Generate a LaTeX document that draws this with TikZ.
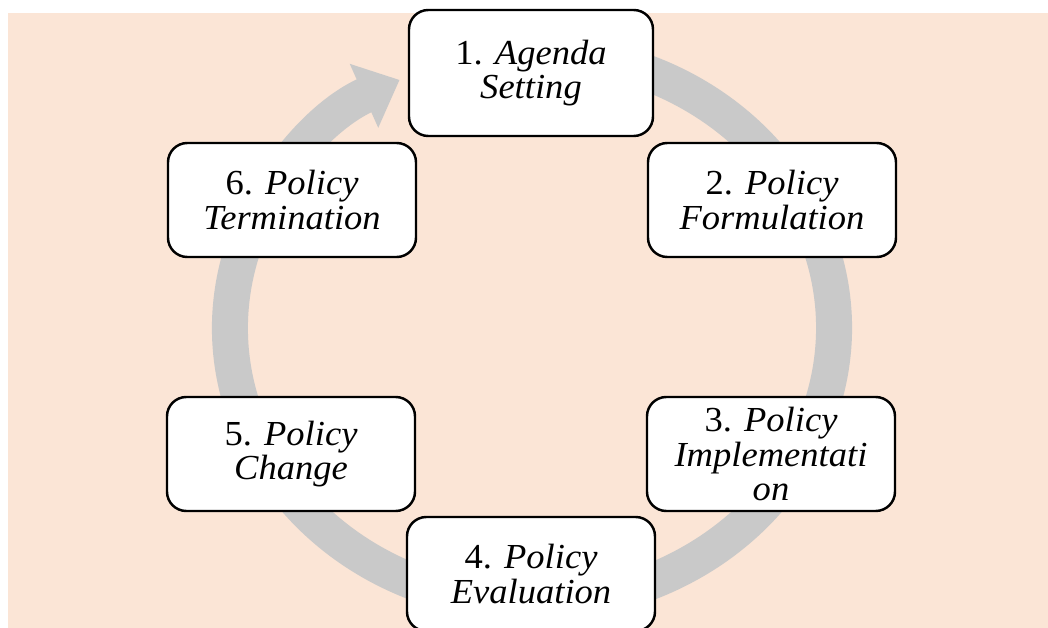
\documentclass[tikz,border=0pt]{standalone}
\usepackage{fontspec}
\setmainfont[FakeStretch=1.04]{Liberation Serif}
\usetikzlibrary{arrows.meta}

\definecolor{peach}{HTML}{FBE5D6}
\definecolor{ringgray}{HTML}{C9C9C9}

\begin{document}
\begin{tikzpicture}[
  stage/.style={
    draw=black,
    line width=1.4pt,
    rounded corners=11pt,
    fill=white,
    minimum width=4.96cm,
    minimum height=2.28cm,
    inner sep=2pt,
    align=center,
    font=\fontsize{20}{19.5}\selectfont\itshape
  },
  ringarrow/.style={
    draw=ringgray,
    line width=0.72cm,
    -{Triangle[width=1.35cm,length=0.78cm,fill=ringgray]}
  }
]

\useasboundingbox (-10.64,-6.0) rectangle (10.32,6.56);

%-----------------------------
% Background panel
%-----------------------------
\fill[peach] (-10.48,-6.0) rectangle (10.32,6.30);

%-----------------------------
% Continuous cycle ring
%-----------------------------
\draw[ringarrow] (75:6.04cm and 5.52cm)
  arc[start angle=75, end angle=-244, x radius=6.04cm, y radius=5.52cm];

%-----------------------------
% Policy stages
%-----------------------------
\node[stage, minimum width=4.88cm, minimum height=2.52cm] (agenda) at (-0.02,5.10) {\textup{1.} Agenda\\Setting};
\node[stage] (formulation)    at (4.80,2.56)   {\textup{2.} Policy\\Formulation};
\node[stage] (implementation) at (4.78,-2.52)  {\textup{3.} Policy\\Implementati\\on};
\node[stage] (evaluation)     at (-0.02,-4.92) {\textup{4.} Policy\\Evaluation};
\node[stage] (change)         at (-4.82,-2.52) {\textup{5.} Policy\\Change};
\node[stage] (termination)    at (-4.80,2.56)  {\textup{6.} Policy\\Termination};

\end{tikzpicture}
\end{document}
